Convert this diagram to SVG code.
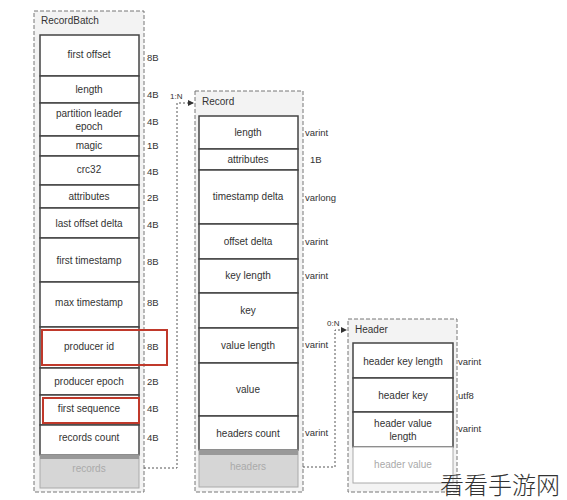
<svg xmlns="http://www.w3.org/2000/svg" width="567" height="500" viewBox="0 0 567 500">
<defs>
<marker id="arr" viewBox="0 0 6 6" refX="5" refY="3" markerWidth="6" markerHeight="6" orient="auto" markerUnits="userSpaceOnUse">
<path d="M0,0 L6,3 L0,6 z" fill="#333"/>
</marker>
</defs>
<style>
text{font-family:"Liberation Sans","Noto Sans",Arial,sans-serif;fill:#333}
.box{fill:#f3f3f3;stroke:#777;stroke-width:1;stroke-dasharray:4 2}
.title{font-size:10px}
.cell{fill:#fff;stroke:#444;stroke-width:1.5}
.lbl{font-size:10px;text-anchor:middle}
.sz{font-size:9.5px}
.gray{fill:#d6d6d6;stroke:#aaa;stroke-width:1}
.grayt{font-size:10px;text-anchor:middle;fill:#aaa}
.red{fill:none;stroke:#c0392b;stroke-width:2}
.conn{fill:none;stroke:#555;stroke-width:1;stroke-dasharray:2 2}
.cl{font-size:8px}
</style>
<rect width="567" height="500" fill="#fff"/>

<g id="recordbatch">
<rect class="box" x="34" y="11" width="110" height="481"/>
<text class="title" x="41" y="24">RecordBatch</text>
<rect class="cell" x="40" y="35" width="99" height="41"/><text class="lbl" x="89" y="58">first offset</text><text class="sz" x="147" y="61">8B</text>
<rect class="cell" x="40" y="76" width="99" height="27"/><text class="lbl" x="89" y="93">length</text><text class="sz" x="147" y="98">4B</text>
<rect class="cell" x="40" y="103" width="99" height="33"/><text class="lbl" x="89" y="117">partition leader</text><text class="lbl" x="89" y="130">epoch</text><text class="sz" x="147" y="125">4B</text>
<rect class="cell" x="40" y="136" width="99" height="20"/><text class="lbl" x="89" y="149">magic</text><text class="sz" x="147" y="149">1B</text>
<rect class="cell" x="40" y="156" width="99" height="29"/><text class="lbl" x="89" y="173">crc32</text><text class="sz" x="147" y="175">4B</text>
<rect class="cell" x="40" y="185" width="99" height="23"/><text class="lbl" x="89" y="200">attributes</text><text class="sz" x="147" y="201">2B</text>
<rect class="cell" x="40" y="208" width="99" height="30"/><text class="lbl" x="89" y="227">last offset delta</text><text class="sz" x="147" y="228">4B</text>
<rect class="cell" x="40" y="238" width="99" height="44"/><text class="lbl" x="89" y="264">first timestamp</text><text class="sz" x="147" y="265">8B</text>
<rect class="cell" x="40" y="282" width="99" height="45"/><text class="lbl" x="89" y="306">max timestamp</text><text class="sz" x="147" y="306">8B</text>
<rect class="cell" x="40" y="327" width="99" height="41"/><text class="lbl" x="89" y="350">producer id</text><text class="sz" x="147" y="350">8B</text>
<rect class="red" x="42" y="330" width="125" height="35"/>
<rect class="cell" x="40" y="368" width="99" height="27"/><text class="lbl" x="89" y="385">producer epoch</text><text class="sz" x="147" y="385">2B</text>
<rect class="cell" x="40" y="395" width="99" height="30"/><text class="lbl" x="89" y="412">first sequence</text><text class="sz" x="147" y="412">4B</text>
<rect class="red" x="43" y="398" width="96" height="25"/>
<rect class="cell" x="40" y="425" width="99" height="30"/><text class="lbl" x="89" y="441">records count</text><text class="sz" x="147" y="441">4B</text>
<rect class="gray" x="40" y="455" width="99" height="33"/><rect x="40" y="455" width="99" height="4" fill="#999"/><text class="grayt" x="89" y="472">records</text>
</g>

<g id="record">
<rect class="box" x="195" y="91" width="108" height="401"/>
<text class="title" x="202" y="105">Record</text>
<rect class="cell" x="199" y="116" width="99" height="33"/><text class="lbl" x="248" y="136">length</text><text class="sz" x="305" y="136">varint</text>
<rect class="cell" x="199" y="149" width="99" height="21"/><text class="lbl" x="248" y="163">attributes</text><text class="sz" x="310" y="163">1B</text>
<rect class="cell" x="199" y="170" width="99" height="54"/><text class="lbl" x="248" y="200">timestamp delta</text><text class="sz" x="305" y="201">varlong</text>
<rect class="cell" x="199" y="224" width="99" height="35"/><text class="lbl" x="248" y="245">offset delta</text><text class="sz" x="305" y="245">varint</text>
<rect class="cell" x="199" y="259" width="99" height="34"/><text class="lbl" x="248" y="279">key length</text><text class="sz" x="305" y="279">varint</text>
<rect class="cell" x="199" y="293" width="99" height="35"/><text class="lbl" x="248" y="314">key</text>
<rect class="cell" x="199" y="328" width="99" height="35"/><text class="lbl" x="248" y="349">value length</text><text class="sz" x="305" y="348">varint</text>
<rect class="cell" x="199" y="363" width="99" height="53"/><text class="lbl" x="248" y="393">value</text>
<rect class="cell" x="199" y="416" width="99" height="34"/><text class="lbl" x="248" y="437">headers count</text><text class="sz" x="305" y="436">varint</text>
<rect class="gray" x="199" y="450" width="99" height="37"/><rect x="199" y="450" width="99" height="5" fill="#999"/><text class="grayt" x="248" y="470">headers</text>
</g>

<g id="header">
<rect class="box" x="348" y="319" width="109" height="173"/>
<text class="title" x="355" y="333">Header</text>
<rect class="cell" x="353" y="343" width="100" height="35"/><text class="lbl" x="403" y="365">header key length</text><text class="sz" x="458" y="365">varint</text>
<rect class="cell" x="353" y="378" width="100" height="34"/><text class="lbl" x="403" y="399">header key</text><text class="sz" x="458" y="399">utf8</text>
<rect class="cell" x="353" y="412" width="100" height="35"/><text class="lbl" x="403" y="427">header value</text><text class="lbl" x="403" y="440">length</text><text class="sz" x="458" y="432">varint</text>
<rect x="353" y="447" width="100" height="36" fill="#fff" stroke="#aaa" stroke-width="1"/><text class="grayt" x="403" y="468">header value</text>
</g>

<g id="connectors">
<path class="conn" d="M144,468 H177 V103 H193" marker-end="url(#arr)"/>
<text class="cl" x="170" y="99">1:N</text>
<path class="conn" d="M303,467 H335 V330 H346" marker-end="url(#arr)"/>
<text class="cl" x="327" y="326">0:N</text>
</g>

<text x="440" y="494" font-size="24" font-weight="300" style="font-family:'Noto Sans CJK SC',sans-serif;fill:#333">看看手游网</text>
</svg>
